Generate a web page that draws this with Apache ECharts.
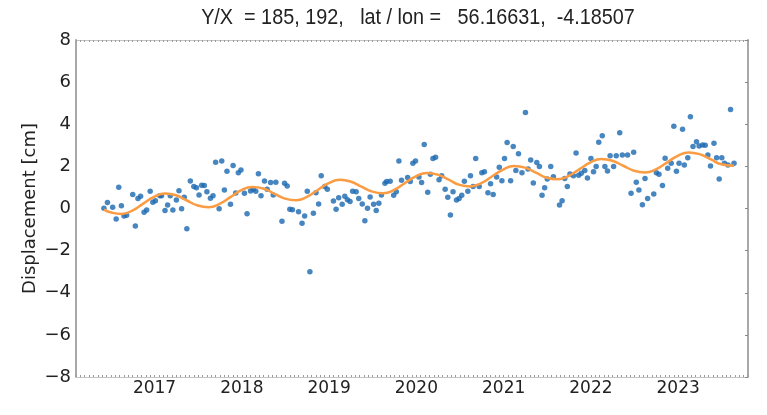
<!DOCTYPE html>
<html>
<head>
<meta charset="utf-8">
<script src="https://cdn.jsdelivr.net/npm/echarts@6/dist/echarts.min.js"></script>
<style>
  html, body { margin: 0; padding: 0; background: #fff; }
  #chart { width: 767px; height: 415px; }
</style>
</head>
<body>
<div id="chart"></div>
<script>
// observation dates (decimal year) and displacement [cm]
var obsYear = [
  2016.42, 2016.46, 2016.52, 2016.56, 2016.59, 2016.62, 2016.65, 2016.68, 2016.75, 2016.78,
  2016.81, 2016.84, 2016.88, 2016.91, 2016.95, 2016.98, 2017.01, 2017.06, 2017.08, 2017.12,
  2017.15, 2017.18, 2017.21, 2017.25, 2017.28, 2017.31, 2017.34, 2017.37, 2017.41, 2017.45,
  2017.48, 2017.51, 2017.54, 2017.57, 2017.60, 2017.64, 2017.67, 2017.70, 2017.74, 2017.77,
  2017.80, 2017.83, 2017.87, 2017.90, 2017.93, 2017.96, 2017.99, 2018.03, 2018.06, 2018.10,
  2018.13, 2018.16, 2018.19, 2018.22, 2018.26, 2018.29, 2018.33, 2018.36, 2018.39, 2018.46,
  2018.49, 2018.52, 2018.55, 2018.58, 2018.65, 2018.69, 2018.72, 2018.75, 2018.78, 2018.82,
  2018.85, 2018.88, 2018.91, 2018.95, 2018.98, 2019.05, 2019.08, 2019.11, 2019.15, 2019.18,
  2019.21, 2019.24, 2019.27, 2019.31, 2019.34, 2019.38, 2019.41, 2019.44, 2019.47, 2019.51,
  2019.54, 2019.57, 2019.60, 2019.64, 2019.66, 2019.70, 2019.74, 2019.77, 2019.80, 2019.83,
  2019.90, 2019.93, 2019.96, 2019.99, 2020.03, 2020.06, 2020.09, 2020.13, 2020.16, 2020.19,
  2020.22, 2020.26, 2020.29, 2020.33, 2020.36, 2020.39, 2020.42, 2020.46, 2020.49, 2020.52,
  2020.55, 2020.59, 2020.62, 2020.65, 2020.68, 2020.72, 2020.75, 2020.78, 2020.82, 2020.85,
  2020.88, 2020.92, 2020.95, 2020.98, 2021.01, 2021.04, 2021.08, 2021.11, 2021.14, 2021.17,
  2021.21, 2021.25, 2021.28, 2021.31, 2021.34, 2021.38, 2021.41, 2021.44, 2021.47, 2021.50,
  2021.54, 2021.57, 2021.64, 2021.67, 2021.70, 2021.73, 2021.76, 2021.80, 2021.83, 2021.86,
  2021.89, 2021.93, 2021.96, 2022.00, 2022.03, 2022.06, 2022.09, 2022.13, 2022.16, 2022.19,
  2022.22, 2022.26, 2022.29, 2022.33, 2022.36, 2022.42, 2022.46, 2022.49, 2022.52, 2022.55,
  2022.59, 2022.62, 2022.65, 2022.72, 2022.75, 2022.78, 2022.82, 2022.85, 2022.88, 2022.92,
  2022.95, 2022.98, 2023.01, 2023.05, 2023.07, 2023.11, 2023.14, 2023.17, 2023.21, 2023.24,
  2023.28, 2023.31, 2023.34, 2023.37, 2023.41, 2023.44, 2023.47, 2023.50, 2023.53, 2023.57,
  2023.60, 2023.64
];
var obsDisp = [
  0.01, 0.28, 0.06, -0.50, 1.01, 0.13, -0.36, -0.32, 0.67, -0.83,
  0.47, 0.58, -0.18, -0.07, 0.82, 0.30, 0.37, 0.61, 0.60, -0.10,
  0.17, 0.61, -0.07, 0.40, 0.84, -0.01, 0.53, -0.96, 1.31, 1.04,
  0.99, 0.64, 1.10, 1.09, 0.80, 0.49, 0.60, 2.20, -0.01, 2.25,
  0.88, 1.77, 0.20, 2.04, 0.74, 1.70, 1.83, 0.72, -0.25, 0.83,
  0.91, 0.82, 1.65, 0.60, 1.31, 0.91, 1.23, 0.64, 1.25, -0.60,
  1.20, 1.07, -0.04, -0.06, -0.15, -0.70, -0.36, 0.82, -3.00, -0.23,
  0.75, 0.21, 1.56, 1.04, 0.91, 0.36, -0.04, 0.51, 0.20, 0.58,
  0.42, 0.33, 0.82, 0.79, 0.48, 0.21, -0.58, 0.01, 0.55, 0.20,
  -0.10, 0.25, 0.64, 1.20, 1.28, 1.29, 0.63, 0.79, 2.26, 1.34,
  1.47, 1.28, 2.15, 2.25, 1.49, 1.23, 3.04, 0.77, 1.63, 2.37,
  2.43, 1.36, 1.55, 0.91, 0.53, -0.31, 0.79, 0.40, 0.47, 0.63,
  1.29, 0.82, 1.55, 1.04, 2.37, 1.04, 1.70, 1.74, 0.75, 1.17,
  0.66, 1.49, 1.96, 1.32, 2.37, 3.13, 1.32, 2.94, 1.80, 2.60,
  1.70, 4.56, 1.88, 2.30, 1.21, 2.18, 1.99, 0.63, 0.99, 1.40,
  1.99, 1.51, 0.17, 0.37, 1.42, 1.04, 1.64, 1.55, 2.63, 1.58,
  1.67, 1.80, 1.45, 2.37, 1.74, 1.99, 3.14, 3.45, 1.99, 1.78,
  2.51, 1.99, 2.51, 3.60, 2.54, 2.54, 0.72, 2.67, 1.25, 0.88,
  0.18, 1.43, 0.48, 0.69, 1.70, 1.63, 1.09, 2.39, 1.91, 2.15,
  3.90, 1.77, 2.15, 3.76, 2.07, 2.41, 4.36, 2.94, 3.17, 2.97,
  3.02, 3.00, 2.54, 2.02, 3.10, 2.41, 1.40, 2.41, 2.15, 2.07,
  4.70, 2.15
];

// fitted trend + seasonal curve
var fitYear = [
  2016.42, 2016.495, 2016.62, 2016.745, 2016.87, 2016.995, 2017.12, 2017.245, 2017.37, 2017.495,
  2017.62, 2017.745, 2017.87, 2017.995, 2018.12, 2018.245, 2018.37, 2018.495, 2018.62, 2018.745,
  2018.87, 2018.995, 2019.12, 2019.245, 2019.37, 2019.495, 2019.62, 2019.745, 2019.87, 2019.995,
  2020.12, 2020.245, 2020.37, 2020.495, 2020.62, 2020.745, 2020.87, 2020.995, 2021.12, 2021.245,
  2021.37, 2021.495, 2021.62, 2021.745, 2021.87, 2021.995, 2022.12, 2022.245, 2022.37, 2022.495,
  2022.62, 2022.745, 2022.87, 2022.995, 2023.12, 2023.245, 2023.37, 2023.495, 2023.64
];
var fitDisp = [
  -0.05, -0.18, -0.26, -0.10, 0.23, 0.55, 0.71, 0.63, 0.38, 0.14,
  0.06, 0.22, 0.54, 0.87, 1.02, 0.95, 0.71, 0.47, 0.39, 0.55,
  0.88, 1.20, 1.36, 1.28, 1.04, 0.80, 0.72, 0.88, 1.21, 1.53,
  1.69, 1.61, 1.37, 1.12, 1.05, 1.21, 1.53, 1.85, 2.02, 1.94,
  1.70, 1.46, 1.39, 1.55, 1.87, 2.19, 2.35, 2.27, 2.03, 1.79,
  1.71, 1.86, 2.18, 2.50, 2.66, 2.58, 2.34, 2.10, 2.03
];

var yearTicks = [2017, 2018, 2019, 2020, 2021, 2022, 2023];
var titleText = 'Y/X  = 185, 192,   lat / lon =   56.16631,  -4.18507';

var chart = echarts.init(document.getElementById('chart'));

var obsData = [];
for (var i = 0; i < obsYear.length; i++) {
  obsData.push([obsYear[i], obsDisp[i]]);
}
var fitData = [];
for (var j = 0; j < fitYear.length; j++) {
  fitData.push([fitYear[j], fitDisp[j]]);
}

var frameColor = '#a9a9a9';
var fontMain = 'DejaVu Sans';

function xAxisBase(pos) {
  return {
    type: 'value',
    position: pos,
    min: 2016.1,
    max: 2023.8,
    interval: 0.05,
    axisLine: { show: true, onZero: false, lineStyle: { color: '#c4c4c4', width: 1 } },
    axisTick: { show: true, inside: true, length: 2, lineStyle: { color: '#9a9a9a', width: 1 } },
    splitLine: { show: false },
    axisLabel: { show: false }
  };
}

var xBottom = xAxisBase('bottom');
xBottom.axisLabel = {
  show: true,
  interval: 0,
  margin: 3,
  color: '#222',
  fontFamily: fontMain,
  fontSize: 17,
  formatter: function (v) {
    var r = Math.round(v);
    return (Math.abs(v - r) < 1e-6 && yearTicks.indexOf(r) >= 0) ? String(r) : '';
  }
};
var xTop = xAxisBase('top');

var option = {
  animation: false,
  backgroundColor: '#fff',
  graphic: [{
    type: 'text',
    x: 418,
    y: 18,
    scaleX: 0.9,
    style: {
      text: titleText,
      textAlign: 'center',
      textVerticalAlign: 'middle',
      fill: '#222',
      fontFamily: 'Liberation Sans',
      fontSize: 22
    }
  }],
  grid: { left: 76, top: 40, width: 672, height: 337 },
  xAxis: [xBottom, xTop],
  yAxis: [
    {
      type: 'value',
      position: 'left',
      min: -8,
      max: 8,
      interval: 2,
      name: 'Displacement [cm]',
      nameLocation: 'middle',
      nameGap: 37,
      nameMoveOverlap: false,
      nameTextStyle: { color: '#222', fontFamily: fontMain, fontSize: 18 },
      axisLine: { show: true, onZero: false, lineStyle: { color: frameColor, width: 2 } },
      axisTick: { show: false },
      splitLine: { show: false },
      axisLabel: {
        margin: 5,
        color: '#222',
        fontFamily: fontMain,
        fontSize: 18,
        formatter: function (v) { return v < 0 ? '\u2212' + Math.abs(v) : String(v); }
      }
    },
    {
      type: 'value',
      position: 'right',
      min: -8,
      max: 8,
      interval: 2,
      axisLine: { show: true, onZero: false, lineStyle: { color: frameColor, width: 2 } },
      axisTick: { show: true, inside: true, length: 3, lineStyle: { color: '#888' } },
      splitLine: { show: false },
      axisLabel: { show: false }
    }
  ],
  series: [
    {
      name: 'obs',
      type: 'scatter',
      data: obsData,
      symbol: 'circle',
      symbolSize: 5.5,
      itemStyle: { color: '#1a68b0' },
      z: 2
    },
    {
      name: 'fit',
      type: 'line',
      data: fitData,
      smooth: 0.5,
      showSymbol: false,
      lineStyle: { color: '#fb9b42', width: 2.5 },
      z: 3
    }
  ]
};

chart.setOption(option);
</script>
</body>
</html>
